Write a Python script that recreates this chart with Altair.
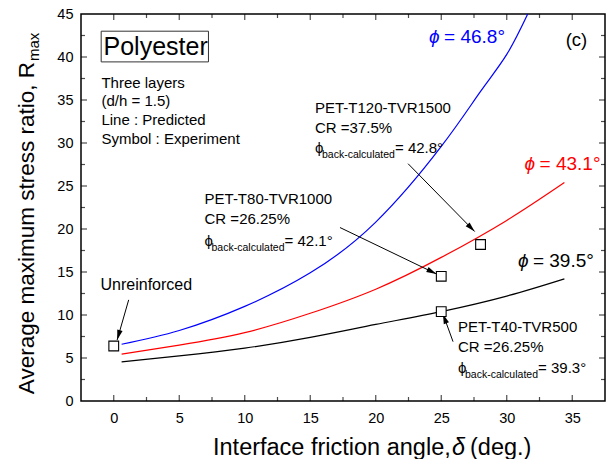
import math
import altair as alt
import pandas as pd

FONT = "Liberation Sans"

# Axis extents and plot size
X_MIN, X_MAX = -2.5, 37.5
Y_MIN, Y_MAX = 0, 45
W, H = 524, 387

# Predicted curves (interface friction angle vs. R_max)
delta_468 = [0.6, 5, 10, 15, 20, 25, 28, 30, 31.6]
rmax_468 = [6.6, 8.2, 11.0, 14.9, 20.8, 29.6, 36.0, 40.3, 45.0]
delta_431 = [0.6, 5, 10, 15, 20, 25, 30, 34.4]
rmax_431 = [5.45, 6.5, 7.95, 10.2, 13.0, 16.7, 21.0, 25.4]
delta_395 = [0.6, 5, 10, 15, 20, 25, 30, 34.4]
rmax_395 = [4.55, 5.24, 6.15, 7.4, 8.9, 10.4, 12.2, 14.2]

# Experimental results
exp_delta = [0, 25, 25, 28]
exp_rmax = [6.4, 10.4, 14.5, 18.2]

# Annotation arrows (start -> tip)
arrow_x0 = [1.14, 17.27, 22.47, 25.9]
arrow_y0 = [11.76, 20.17, 27.59, 6.9]
arrow_x1 = [0.26, 24.63, 27.55, 25.13]
arrow_y1 = [7.1, 14.78, 19.71, 10.13]

# Specimen text blocks
block_name = ["PET-T120-TVR1500", "PET-T80-TVR1000", "PET-T40-TVR500"]
block_cr = ["CR =37.5%", "CR =26.25%", "CR =26.25%"]
block_phi = ["= 42.8°", "= 42.1°", "= 39.3°"]
block_x = [15.36, 6.93, 26.28]
block_y_name = [33.49, 22.9, 8.0]
block_y_cr = [31.16, 20.6, 5.67]
block_y_phi = [28.84, 18.04, 3.22]

# Curve labels
curve_lab = ["= 46.8°", "= 43.1°", "= 39.5°"]
curve_lab_x = [24.07, 31.36, 30.85]
curve_lab_y = [41.64, 26.81, 15.63]
curve_lab_col = ["#0000ff", "#ff0000", "#000000"]

# Legend notes
notes = ["Three layers", "(d/h = 1.5)", "Line : Predicted", "Symbol : Experiment"]
notes_y = [36.4, 34.26, 32.14, 29.92]
notes_x = -0.94

x_major = [0, 5, 10, 15, 20, 25, 30, 35]
x_minor = [2.5, 7.5, 12.5, 17.5, 22.5, 27.5, 32.5]
y_major = [0, 5, 10, 15, 20, 25, 30, 35, 40, 45]
y_minor = [2.5, 7.5, 12.5, 17.5, 22.5, 27.5, 32.5, 37.5, 42.5]

xs = alt.Scale(domain=[X_MIN, X_MAX], nice=False, zero=False)
ys = alt.Scale(domain=[Y_MIN, Y_MAX], nice=False, zero=False)

# tick labels only; tick marks are drawn inward as separate layers
x_axis = alt.Axis(values=x_major, ticks=False, domain=False, grid=False, title=None,
                  labelFont=FONT, labelFontSize=14.5, labelColor="black", labelPadding=10)
y_axis = alt.Axis(values=y_major, ticks=False, domain=False, grid=False, title=None,
                  labelFont=FONT, labelFontSize=14.5, labelColor="black", labelPadding=8)


def X(field="x"):
    return alt.X(f"{field}:Q", scale=xs, axis=x_axis)


def Y(field="y"):
    return alt.Y(f"{field}:Q", scale=ys, axis=y_axis)


def curve(dx, ry, color):
    df = pd.DataFrame({"x": dx, "y": ry})
    return alt.Chart(df).mark_line(
        color=color, strokeWidth=1.2, interpolate="natural"
    ).encode(x=X(), y=Y(), order="x:Q")


def texts(df, size, **kw):
    props = dict(align="left", baseline="alphabetic", font=FONT,
                 fontSize=size, color="black")
    props.update(kw)
    return alt.Chart(df).mark_text(**props).encode(x=X(), y=Y(), text="t:N")


def ticks_x(vals, edge, length, up):
    df = pd.DataFrame({"x": vals, "y": [edge] * len(vals)})
    return alt.Chart(df).mark_tick(
        orient="vertical", size=length, thickness=1.2, color="black",
        yOffset=(-length / 2 if up else length / 2)
    ).encode(x=X(), y=Y())


def ticks_y(vals, edge, length, right):
    df = pd.DataFrame({"x": [edge] * len(vals), "y": vals})
    return alt.Chart(df).mark_tick(
        orient="horizontal", size=length, thickness=1.2, color="black",
        xOffset=(length / 2 if right else -length / 2)
    ).encode(x=X(), y=Y())


tick_layers = [
    ticks_x(x_major, Y_MIN, 6, True), ticks_x(x_minor, Y_MIN, 4, True),
    ticks_x(x_major, Y_MAX, 6, False), ticks_x(x_minor, Y_MAX, 4, False),
    ticks_y(y_major[1:-1], X_MIN, 6, True), ticks_y(y_minor, X_MIN, 4, True),
    ticks_y(y_major[1:-1], X_MAX, 6, False), ticks_y(y_minor, X_MAX, 4, False),
]

curves = [
    curve(delta_468, rmax_468, "#0000ff"),
    curve(delta_431, rmax_431, "#ff0000"),
    curve(delta_395, rmax_395, "#000000"),
]

# arrows: shaft + rotated arrowhead pointing at the tip
sx = W / (X_MAX - X_MIN)
sy = H / (Y_MAX - Y_MIN)
arrow_df = pd.DataFrame({"x": arrow_x0, "y": arrow_y0, "x2": arrow_x1, "y2": arrow_y1})
arrow_df["ang"] = [
    math.degrees(math.atan2((b - a) * sx, (d - c) * sy))
    for a, b, c, d in zip(arrow_x0, arrow_x1, arrow_y0, arrow_y1)
]
shafts = alt.Chart(arrow_df).mark_rule(color="black", strokeWidth=1).encode(
    x=X(), y=Y(), x2="x2:Q", y2="y2:Q")
heads = alt.Chart(arrow_df).mark_point(
    shape="M0,0 L1.1,4 L-1.1,4 Z", filled=True, color="black", size=25, opacity=1
).encode(x=X("x2"), y=Y("y2"), angle=alt.Angle("ang:Q", scale=None))

points = alt.Chart(pd.DataFrame({"x": exp_delta, "y": exp_rmax})).mark_point(
    shape="square", size=95, filled=True, fill="white", stroke="black",
    strokeWidth=1.1, opacity=1
).encode(x=X(), y=Y())

# Polyester label with frame
box = alt.Chart(pd.DataFrame({"x": [-0.96], "x2": [7.23], "y": [39.43], "y2": [43.0]})).mark_rect(
    fillOpacity=0, stroke="#333333", strokeWidth=1
).encode(x=X(), x2="x2:Q", y=Y(), y2="y2:Q")
poly = texts(pd.DataFrame({"x": [-0.78], "y": [40.28], "t": ["Polyester"]}), 25)
panel = texts(pd.DataFrame({"x": [34.5], "y": [41.25], "t": ["(c)"]}), 18.5)
note_layer = texts(pd.DataFrame({"x": [notes_x] * 4, "y": notes_y, "t": notes}), 15)
unre = texts(pd.DataFrame({"x": [-1.01], "y": [12.92], "t": ["Unreinforced"]}), 16)

blk_main = texts(pd.DataFrame({
    "x": block_x * 2, "y": block_y_name + block_y_cr, "t": block_name + block_cr}), 15)
blk_phi = texts(pd.DataFrame({"x": block_x, "y": block_y_phi, "t": ["ϕ"] * 3}), 15)
blk_sub = texts(pd.DataFrame({"x": block_x, "y": block_y_phi, "t": ["back-calculated"] * 3}),
                10.5, dx=7, dy=5)
blk_val = texts(pd.DataFrame({"x": block_x, "y": block_y_phi, "t": block_phi}), 15, dx=80)

lab_layers = []
for t, lx, ly, c in zip(curve_lab, curve_lab_x, curve_lab_y, curve_lab_col):
    d = pd.DataFrame({"x": [lx], "y": [ly], "t": ["ϕ"]})
    lab_layers.append(texts(d, 19, color=c, fontStyle="italic"))
    d2 = pd.DataFrame({"x": [lx], "y": [ly], "t": [t]})
    lab_layers.append(texts(d2, 19, color=c, dx=15))

# axis titles (pixel positions relative to the plot area)
ytitle_anchor = 48
ytitle = alt.Chart(pd.DataFrame({"t": ["Average maximum stress ratio, R"]})).mark_text(
    align="right", baseline="alphabetic", angle=270, font=FONT, fontSize=22.5, color="black"
).encode(x=alt.value(-47), y=alt.value(ytitle_anchor), text="t:N")
ytitle_sub = alt.Chart(pd.DataFrame({"t": ["max"]})).mark_text(
    align="left", baseline="alphabetic", angle=270, font=FONT, fontSize=15, color="black"
).encode(x=alt.value(-42), y=alt.value(ytitle_anchor - 1), text="t:N")

xt_y = H + 54
xtitle_a = alt.Chart(pd.DataFrame({"t": ["Interface friction angle,"]})).mark_text(
    align="left", baseline="alphabetic", font=FONT, fontSize=23.5, color="black"
).encode(x=alt.value(132), y=alt.value(xt_y), text="t:N")
xtitle_b = alt.Chart(pd.DataFrame({"t": ["δ"]})).mark_text(
    align="left", baseline="alphabetic", font=FONT, fontSize=23.5, color="black", fontStyle="italic"
).encode(x=alt.value(371), y=alt.value(xt_y), text="t:N")
xtitle_c = alt.Chart(pd.DataFrame({"t": ["(deg.)"]})).mark_text(
    align="left", baseline="alphabetic", font=FONT, fontSize=23.5, color="black"
).encode(x=alt.value(389), y=alt.value(xt_y), text="t:N")

chart = alt.layer(
    *curves, shafts, heads, points, box, poly, panel, note_layer, unre,
    blk_main, blk_phi, blk_sub, blk_val, *lab_layers, *tick_layers,
    ytitle, ytitle_sub, xtitle_a, xtitle_b, xtitle_c,
).properties(
    width=W, height=H,
    autosize=alt.AutoSizeParams(type="none"),
    padding={"left": 81, "top": 14, "right": 11, "bottom": 58},
).configure_view(
    stroke="black", strokeWidth=1.5
)

chart.save("out.html", embed_options={"renderer": "svg", "actions": False})
